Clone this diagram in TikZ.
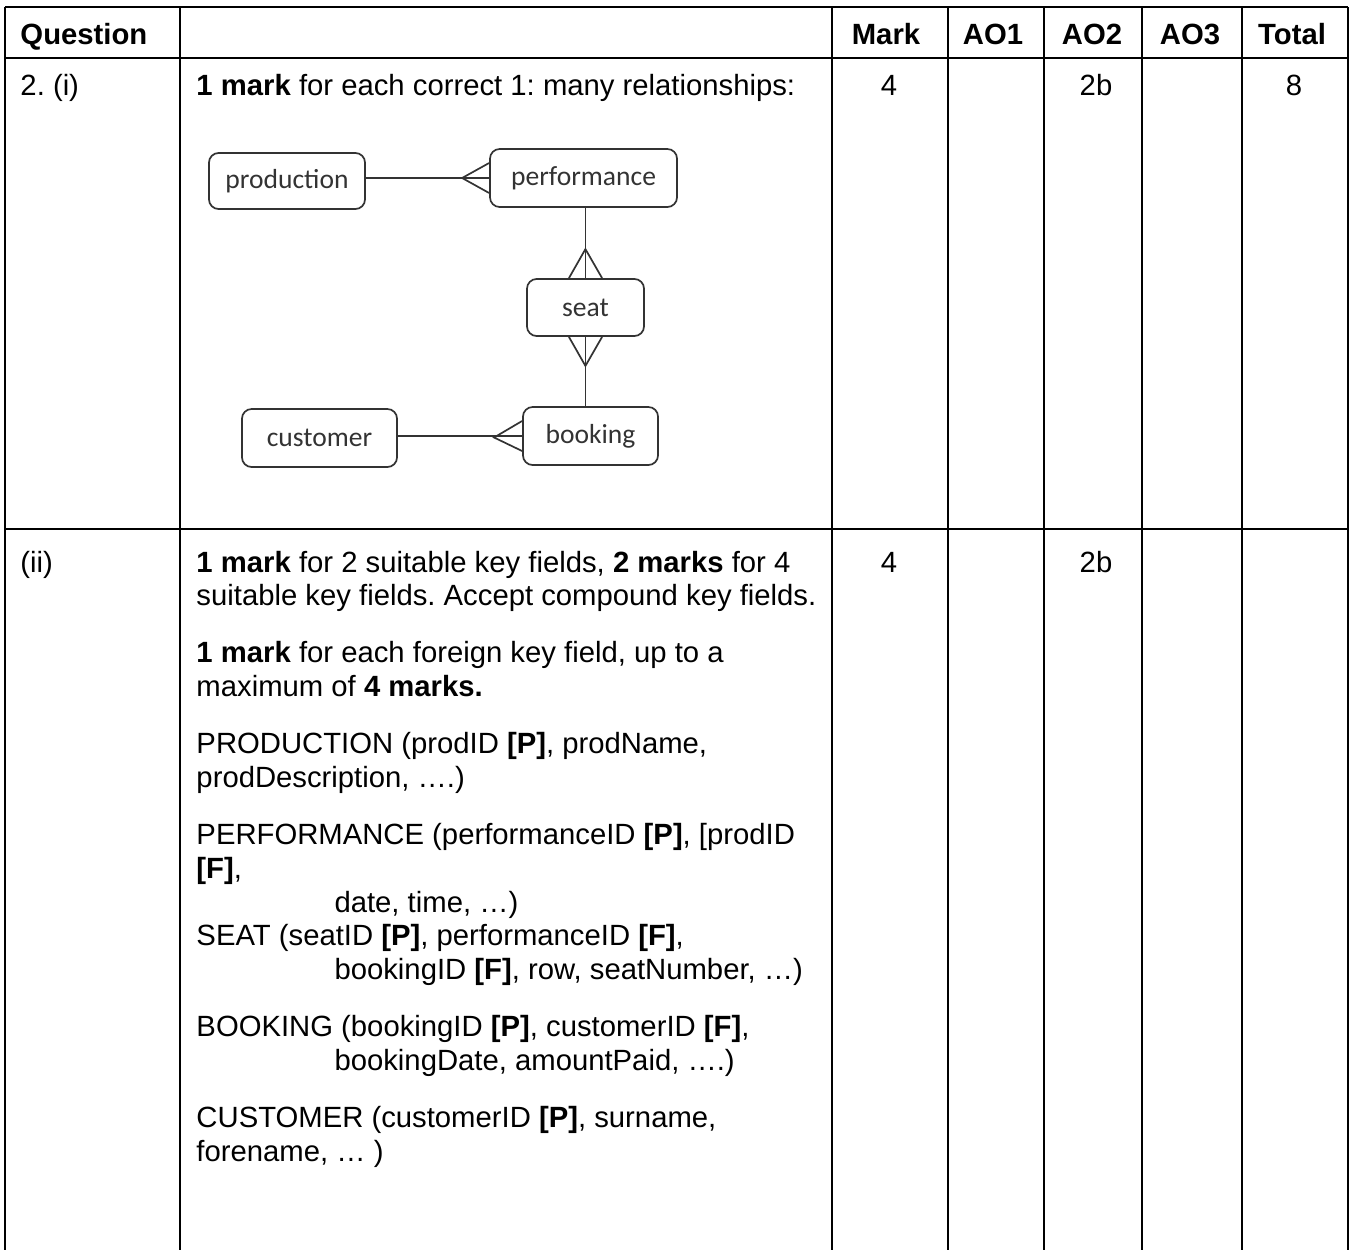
\documentclass[tikz,border=0pt]{standalone}
\usepackage{fontspec}
\setmainfont{Liberation Sans}
\newfontfamily\erfont{Carlito}
\frenchspacing
\usetikzlibrary{positioning}
\tikzset
{
    gridline/.style  = {line width=0.8pt, line cap=square},
    headcell/.style  = {font=\bfseries\fontsize{12}{13.9}\selectfont, anchor=base, inner sep=0},
    cell/.style      = {font=\fontsize{12}{13.9}\selectfont, anchor=base, inner sep=0},
    longcell/.style  = {font=\fontsize{12}{13.9}\selectfont, anchor=base west, inner sep=0, text width=270pt, align=flush left},
    entity/.style    = {rectangle, rounded corners=4pt, draw=black!80, line width=0.7pt, text=black!80, font=\erfont\fontsize{11.3}{13}\selectfont, inner sep=0},
    relation/.style  = {draw=black!80, line width=0.7pt}
}
\newcommand\pk{\textbf{[P]}}
\newcommand\fk{\textbf{[F]}}

\begin{document}
\begin{tikzpicture}[x=0.41pt, y=-0.41pt]
    \useasboundingbox (0,0) rectangle (1352,1250);
    % grid of the table
    \draw[gridline] (5,7) -- (1348,7);
    \draw[gridline] (5,58) -- (1348,58);
    \draw[gridline] (5,529) -- (1348,529);
    \foreach \x in {5,180,832,948,1044,1142,1242,1348}
        \draw[gridline] (\x,7) -- (\x,1250);

    % header row
    \node[headcell, anchor=base west] (question) at (20,45) {Question};
    \node[headcell] (mark) at (886,45) {Mark};
    \node[headcell] (aoone) at (993,45) {AO1};
    \node[headcell] (aotwo) at (1092,45) {AO2};
    \node[headcell] (aothree) at (1190,45) {AO3};
    \node[headcell] (total) at (1292,45) {Total};

    % part (i)
    \node[cell, anchor=base west] (parti) at (20,95) {2. (i)};
    \node[cell, anchor=base west] (guidei) at (196,95) {\textbf{1 mark} for each correct 1: many relationships:};
    \node[cell] (marki) at (889,95) {4};
    \node[cell] (aoi) at (1096,95) {2b};
    \node[cell] (totali) at (1294,95) {8};

    % entity relationship diagram
    \node[entity, minimum width=64pt, minimum height=23pt] (production) at (287,181) {production};
    \node[entity, minimum width=76.7pt, minimum height=23.8pt] (performance) at (583.5,178) {performance};
    \node[entity, minimum width=48pt, minimum height=23.4pt] (seat) at (585.5,307.5) {seat};
    \node[entity, minimum width=55.4pt, minimum height=23.8pt] (booking) at (590.5,436) {booking};
    \node[entity, minimum width=63.6pt, minimum height=23.8pt] (customer) at (319.5,438) {customer};

    \draw[relation] (production.east |- performance.west) -- (performance.west);
    \draw[relation] ([yshift=6.15pt]performance.west) -- ++(-27,15) -- ([yshift=-6.15pt]performance.west);

    \draw[relation] (performance.south -| seat.north) -- (seat.north);
    \draw[relation] ([xshift=-6.8pt]seat.north) -- ++(16.5,-29) -- ([xshift=6.8pt]seat.north);

    \draw[relation] (seat.south) -- (seat.south |- booking.north);
    \draw[relation] ([xshift=-6.8pt]seat.south) -- ++(16.5,29) -- ([xshift=6.8pt]seat.south);

    \draw[relation] (customer.east |- booking.west) -- (booking.west);
    \draw[relation] ([yshift=6.15pt]booking.west) -- ++(-28,16.5) -- ([yshift=-6.15pt]booking.west);

    % part (ii)
    \node[cell, anchor=base west] (partii) at (20,572) {(ii)};
    \node[longcell] (guideii) at (196,572) {%
        \textbf{1 mark} for 2 suitable key fields, \textbf{2 marks} for 4\\
        suitable key fields. Accept compound key fields.\\[9.4pt]
        \textbf{1 mark} for each foreign key field, up to a\\
        maximum of \textbf{4 marks.}\\[9.4pt]
        PRODUCTION (prodID \pk, prodName,\\
        prodDescription, ….)\\[9.4pt]
        PERFORMANCE (performanceID \pk, [prodID\\
        \fk,\\
        \hspace*{56.6pt}date, time, …)\\
        SEAT (seatID \pk, performanceID \fk,\\
        \hspace*{56.6pt}bookingID \fk, row, seatNumber, …)\\[9.4pt]
        BOOKING (bookingID \pk, customerID \fk,\\
        \hspace*{56.6pt}bookingDate, amountPaid, ….)\\[9.4pt]
        CUSTOMER (customerID \pk, surname,\\
        forename, … )};
    \node[cell] (markii) at (889,572) {4};
    \node[cell] (aoii) at (1096,572) {2b};
\end{tikzpicture}
\end{document}
